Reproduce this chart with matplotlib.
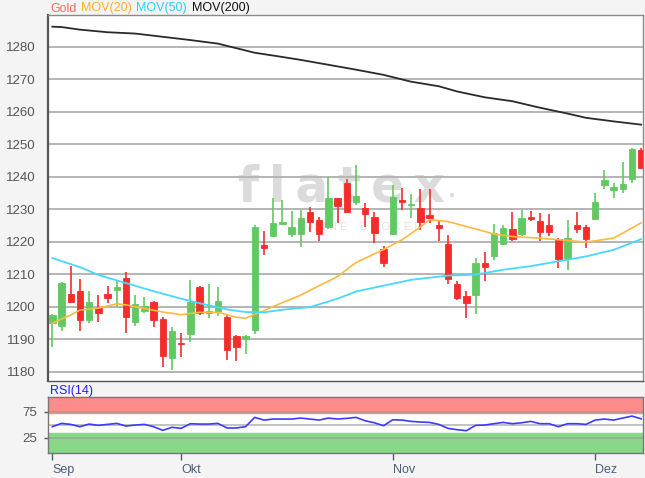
import numpy as np
import pandas as pd
import matplotlib
matplotlib.use("Agg")
import matplotlib.pyplot as plt

plt.rcParams['font.family'] = ['Liberation Sans', 'DejaVu Sans']

# daily gold candles, 11 Sep - 10 Dec 2018
dates = pd.bdate_range("2018-09-11", "2018-12-10")
opens = [1195.1, 1194.1, 1203.9, 1205.0, 1196.0, 1199.7, 1203.8, 1205.2, 1209.0, 1195.4,
         1198.8, 1201.6, 1196.3, 1184.2, 1189.0, 1191.6, 1206.2, 1198.1, 1198.6, 1197.0,
         1191.1, 1190.1, 1193.0, 1219.0, 1221.8, 1225.5, 1222.4, 1222.4, 1229.0, 1226.7,
         1224.6, 1233.3, 1238.2, 1232.2, 1230.5, 1227.6, 1217.7, 1222.3, 1232.8, 1231.2,
         1230.5, 1228.2, 1225.0, 1219.4, 1206.9, 1203.3, 1203.7, 1213.6, 1215.6, 1219.4,
         1224.0, 1222.3, 1227.7, 1226.4, 1225.0, 1220.9, 1214.6, 1225.3, 1224.6, 1227.1,
         1237.3, 1235.9, 1236.3, 1239.4, 1248.2]
highs = [1197.8, 1207.5, 1212.5, 1208.7, 1205.0, 1203.6, 1206.5, 1208.2, 1210.8, 1203.6,
         1203.1, 1201.8, 1197.0, 1193.7, 1192.1, 1208.2, 1206.5, 1207.0, 1206.0, 1197.6,
         1191.4, 1191.4, 1225.2, 1223.4, 1233.4, 1232.7, 1229.6, 1229.8, 1230.6, 1227.7,
         1240.0, 1233.4, 1239.4, 1243.5, 1232.0, 1229.3, 1218.7, 1237.3, 1236.6, 1234.6,
         1236.1, 1236.3, 1226.4, 1222.0, 1208.0, 1204.9, 1215.1, 1216.7, 1225.4, 1225.3,
         1229.1, 1229.9, 1229.4, 1228.7, 1228.4, 1221.2, 1226.6, 1229.1, 1225.0, 1235.1,
         1242.2, 1238.1, 1244.5, 1248.9, 1248.9]
lows = [1187.6, 1192.7, 1201.1, 1192.7, 1194.9, 1195.4, 1201.3, 1200.0, 1191.9, 1194.2,
        1198.0, 1193.7, 1181.6, 1180.6, 1184.7, 1189.3, 1197.5, 1196.5, 1197.2, 1183.7,
        1183.2, 1185.5, 1191.7, 1215.8, 1221.6, 1225.2, 1221.6, 1218.3, 1223.1, 1220.1,
        1223.8, 1225.7, 1228.7, 1231.2, 1224.6, 1219.7, 1212.1, 1222.0, 1229.7, 1227.4,
        1223.5, 1225.9, 1220.2, 1207.0, 1202.1, 1196.7, 1197.7, 1208.0, 1214.4, 1218.9,
        1220.2, 1221.8, 1226.4, 1220.2, 1221.8, 1212.0, 1211.2, 1222.8, 1218.2, 1226.9,
        1236.3, 1233.3, 1235.1, 1238.1, 1242.4]
closes = [1197.4, 1207.2, 1201.6, 1196.0, 1201.4, 1198.2, 1202.6, 1206.0, 1196.8, 1200.9,
          1200.4, 1196.0, 1184.9, 1192.7, 1188.6, 1201.6, 1198.2, 1198.8, 1201.9, 1186.6,
          1187.6, 1190.9, 1224.5, 1218.0, 1225.7, 1226.2, 1224.5, 1227.4, 1226.2, 1222.4,
          1233.3, 1231.0, 1229.2, 1234.1, 1228.6, 1222.8, 1213.6, 1233.8, 1232.3, 1231.5,
          1226.1, 1227.4, 1224.3, 1208.5, 1202.6, 1201.3, 1213.6, 1212.1, 1222.6, 1224.3,
          1221.0, 1227.2, 1227.1, 1223.0, 1223.0, 1214.6, 1221.2, 1223.8, 1220.7, 1232.2,
          1239.0, 1236.7, 1237.9, 1248.6, 1242.7]

# moving averages (day index, value)
mov20_idx = [0, 2, 3, 5, 7, 8, 10, 12, 14, 16, 18, 20, 21, 23, 24, 27, 29, 31, 33, 36,
             38, 40, 41, 43, 45, 48, 50, 53, 56, 58, 61, 64]
mov20 = [1195.0, 1197.5, 1199.0, 1199.6, 1200.9, 1200.6, 1199.5, 1198.4, 1197.6, 1198.3,
         1198.3, 1196.8, 1196.5, 1198.8, 1200.1, 1203.6, 1206.5, 1209.3, 1213.6, 1217.6,
         1220.6, 1224.5, 1226.8, 1226.2, 1224.7, 1222.4, 1221.6, 1221.1, 1220.4, 1219.9,
         1221.1, 1225.8]
mov50_idx = [0, 3, 5, 8, 11, 14, 16, 19, 21, 23, 25, 28, 31, 33, 36, 39, 43, 46, 49, 52,
             55, 58, 61, 64]
mov50 = [1215.0, 1212.2, 1209.8, 1207.3, 1204.8, 1202.5, 1201.1, 1199.2, 1198.4, 1198.3,
         1199.1, 1199.9, 1202.5, 1204.7, 1206.5, 1208.3, 1209.6, 1209.9, 1211.4, 1212.5,
         1214.0, 1215.5, 1217.5, 1220.8]
mov200_idx = [0, 1, 3, 6, 9, 12, 15, 18, 20, 22, 25, 27, 30, 33, 36, 39, 42, 44, 47, 50,
              53, 56, 58, 61, 64]
mov200 = [1286.1, 1286.0, 1285.2, 1284.4, 1284.0, 1283.0, 1282.0, 1280.9, 1279.5, 1278.1,
          1276.8, 1275.9, 1274.4, 1272.9, 1271.3, 1269.2, 1267.8, 1266.2, 1264.4, 1263.2,
          1261.2, 1259.4, 1258.1, 1257.0, 1256.0]

rsi = [46.2, 52.6, 50.7, 46.2, 51.3, 48.8, 50.7, 52.6, 47.5, 49.4,
       50.7, 46.2, 39.2, 45.0, 43.0, 52.0, 51.3, 51.3, 52.6, 43.7,
       43.7, 46.2, 64.2, 59.0, 61.0, 61.0, 61.0, 62.9, 61.0, 59.0,
       62.9, 61.0, 62.3, 64.2, 57.7, 53.8, 48.1, 59.6, 59.0, 56.5,
       55.2, 54.5, 50.7, 43.0, 40.4, 38.5, 48.8, 49.4, 52.0, 54.5,
       52.0, 53.8, 56.5, 52.0, 52.0, 46.2, 52.0, 52.0, 50.7, 59.0,
       61.0, 59.0, 62.9, 66.7, 61.5]

month_names = {9: "Sep", 10: "Okt", 11: "Nov", 12: "Dez"}

bg = "#f4f4f4"
green = "#62c962"
red = "#f52c2c"
grid_c = "#b4b4b4"
tick_c = "#555555"
xlab_c = "#4d5d75"

fig = plt.figure(figsize=(6.45, 4.78), dpi=100, facecolor=bg)
ax = fig.add_axes([48 / 645, 1 - 381 / 478, 595 / 645, 366 / 478])
ax2 = fig.add_axes([48 / 645, 1 - 452.7 / 478, 595 / 645, 55.4 / 478], sharex=ax)

x = np.arange(len(dates))
o = np.array(opens)
h = np.array(highs)
l = np.array(lows)
c = np.array(closes)
up = c >= o
cols = np.where(up, green, red)

# watermark
ax.text(0.494, 0.53, "f\u2009l\u2009a\u2009t\u2009e\u2009x", transform=ax.transAxes,
        fontsize=35, family="DejaVu Sans", weight="bold", color="#dbdbdb",
        ha="center", va="center", zorder=0)
ax.text(0.678, 0.508, "\u25cf", transform=ax.transAxes, fontsize=7,
        color="#dbdbdb", ha="center", va="center", zorder=0)
ax.text(0.518, 0.42, "O N L I N E    B R O K E R", transform=ax.transAxes, fontsize=8,
        color="#e4e4e4", ha="center", va="center", zorder=0)

for y in range(1180, 1290, 10):
    ax.axhline(y, color=grid_c, lw=1.4, zorder=1)

ax.vlines(x, l, h, colors=cols, lw=1.2, zorder=2)
body = np.maximum(np.abs(c - o), 0.4)
ax.bar(x, body, bottom=np.minimum(o, c), width=0.7, color=cols, edgecolor=cols,
       lw=0.6, zorder=3)

ax.plot(mov20_idx, mov20, color="#ffb840", lw=1.2, zorder=4)
ax.plot(mov50_idx, mov50, color="#48d8ff", lw=1.3, zorder=4)
ax.plot(mov200_idx, mov200, color="#2a2a2a", lw=1.3, zorder=4)

ax.set_xlim(-0.47, 64.2)
ax.set_ylim(1177.2, 1289.7)
ax.set_yticks(range(1180, 1290, 10))
ax.tick_params(axis="y", length=0, pad=9, labelsize=9.5, labelcolor=tick_c)
ax.tick_params(axis="x", length=0, labelbottom=False)
for s in ax.spines.values():
    s.set_color("#8a8a8a")
    s.set_linewidth(1)
ax.spines["left"].set_color("#555555")
ax.spines["left"].set_linewidth(1.6)
ax.spines["bottom"].set_color("#555555")

# RSI panel
ax2.axhspan(72, 110, color="#ff8c8c", zorder=0)
ax2.axhspan(-10, 33.5, color="#88d888", zorder=0)
for y in (25, 50, 75):
    ax2.axhline(y, color="#999999", lw=1.2, alpha=0.7, zorder=1)
ax2.plot(x, rsi, color="#3b3bff", lw=1.2, zorder=3)
ax2.set_ylim(-4, 103)
ax2.set_yticks([25, 75])
ax2.tick_params(axis="y", length=3, width=1, color="#555555", pad=5,
                labelsize=9.5, labelcolor=tick_c)

month_pos = []
month_lab = []
for i, d in enumerate(dates):
    if i == 0 or d.month != dates[i - 1].month:
        month_pos.append(i)
        month_lab.append(month_names[d.month])
ax2.set_xticks(month_pos)
ax2.set_xticklabels(month_lab, ha="left")
ax2.tick_params(axis="x", length=5, width=1, color=xlab_c, pad=3,
                labelsize=9, labelcolor=xlab_c)
for s in ax2.spines.values():
    s.set_color("#777777")
    s.set_linewidth(1)

# legend line on top
fy = 1 - 8.5 / 478
for tx, px, col in [("Gold", 50, "#ff6a5a"), ("MOV(20)", 81, "#ffad2a"),
                    ("MOV(50)", 136, "#2ccfff"), ("MOV(200)", 192, "#111111")]:
    fig.text(px / 645, fy, tx, color=col, fontsize=9, ha="left", va="center")
fig.text(50 / 645, 1 - 391 / 478, "RSI(14)", color="#2020ff", fontsize=9,
         ha="left", va="center")

fig.savefig("out.png", dpi=100, facecolor=bg)
